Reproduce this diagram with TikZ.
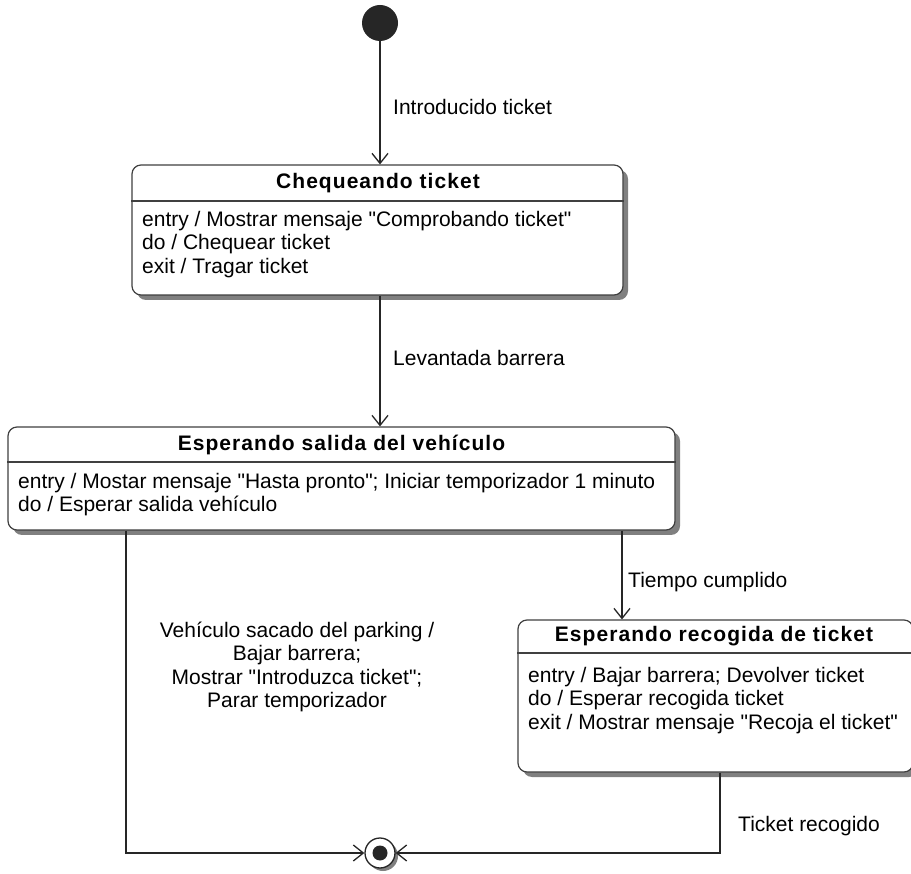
\documentclass[tikz,border=0pt]{standalone}
\usepackage{fontspec}
\setmainfont{Liberation Sans}[Ligatures=TeXOff]
\usetikzlibrary{arrows.meta,shadows}
\begin{document}
\begin{tikzpicture}[x=1pt,y=-1pt,
  state/.style={draw=black!75, line width=1.2pt, rounded corners=9pt, fill=white,
    drop shadow={shadow xshift=5pt,shadow yshift=-5pt,fill=black!50,opacity=1},
    inner sep=0pt},
  hdr/.style={draw=black!75, line width=1.2pt},
  ttl/.style={inner sep=0pt, font=\fontsize{21}{24}\selectfont\bfseries\addfontfeatures{LetterSpace=5}},
  body/.style={inner sep=0pt, align=left, anchor=north west, font=\fontsize{21}{23.5}\selectfont},
  lbl/.style={inner sep=0pt, font=\fontsize{21}{23.5}\selectfont},
  conn/.style={draw=black!85, line width=1.3pt, -{Straight Barb[length=10pt,width=16pt]}}
]
\clip (0,0) rectangle (911,874);
\fill[white] (0,0) rectangle (911,874);

% initial
\node[circle, fill=black!85, minimum size=36pt, inner sep=0pt] (init) at (380,23) {};

% state 1
\node[state, minimum width=491pt, minimum height=130pt] (s1) at (377.5,230) {};
\coordinate (h1) at (0,201);
\draw[hdr] (s1.west |- h1) -- (s1.east |- h1);
\node[ttl] (t1) at (378,183) {Chequeando ticket};
\node[body] (b1) at (142,211) {entry / Mostrar mensaje "Comprobando ticket"\\do / Chequear ticket\\exit / Tragar ticket};

% state 2
\node[state, minimum width=667pt, minimum height=103pt] (s2) at (341.5,478.5) {};
\coordinate (h2) at (0,462);
\draw[hdr] (s2.west |- h2) -- (s2.east |- h2);
\node[ttl] (t2) at (341.5,445) {Esperando salida del vehículo};
\node[body] (b2) at (18,473) {entry / Mostar mensaje "Hasta pronto"; Iniciar temporizador 1 minuto\\do / Esperar salida vehículo};

% state 3
\node[state, minimum width=395pt, minimum height=152pt] (s3) at (715.5,696) {};
\coordinate (h3) at (0,653);
\draw[hdr] (s3.west |- h3) -- (s3.east |- h3);
\node[ttl] (t3) at (714,636) {Esperando recogida de ticket};
\node[body] (b3) at (528,667) {entry / Bajar barrera; Devolver ticket\\do / Esperar recogida ticket\\exit / Mostrar mensaje "Recoja el ticket"};

% final
\node[circle, draw=black!85, line width=1.3pt, fill=white, minimum size=30pt, inner sep=0pt,
  drop shadow={shadow xshift=3pt,shadow yshift=-3pt,fill=black!50,opacity=1}] (final) at (380,853) {};
\node[circle, fill=black!85, minimum size=15pt, inner sep=0pt] (finaldot) at (final) {};

% connectors
\draw[conn] (init) -- (init |- s1.north);
\draw[conn] (s1.south -| init) -- (s2.north -| init);
\coordinate (x23) at (622,0);
\draw[conn] (s2.south -| x23) -- (s3.north -| x23);
\coordinate (xl) at (126,0);
\draw[conn] (s2.south -| xl) |- (final);
\coordinate (xr) at (720,0);
\draw[conn] (s3.south -| xr) |- (final);

% labels
\node[lbl, anchor=west] (l1) at (393,107) {Introducido ticket};
\node[lbl, anchor=west] (l2) at (393,358) {Levantada barrera};
\node[lbl, anchor=west] (l3) at (628,582) {Tiempo cumplido};
\node[lbl, anchor=west] (l4) at (738,826) {Ticket recogido};
\node[lbl, align=center] (l5) at (297,667) {Vehículo sacado del parking /\\Bajar barrera;\\Mostrar "Introduzca ticket";\\Parar temporizador};
\end{tikzpicture}
\end{document}
